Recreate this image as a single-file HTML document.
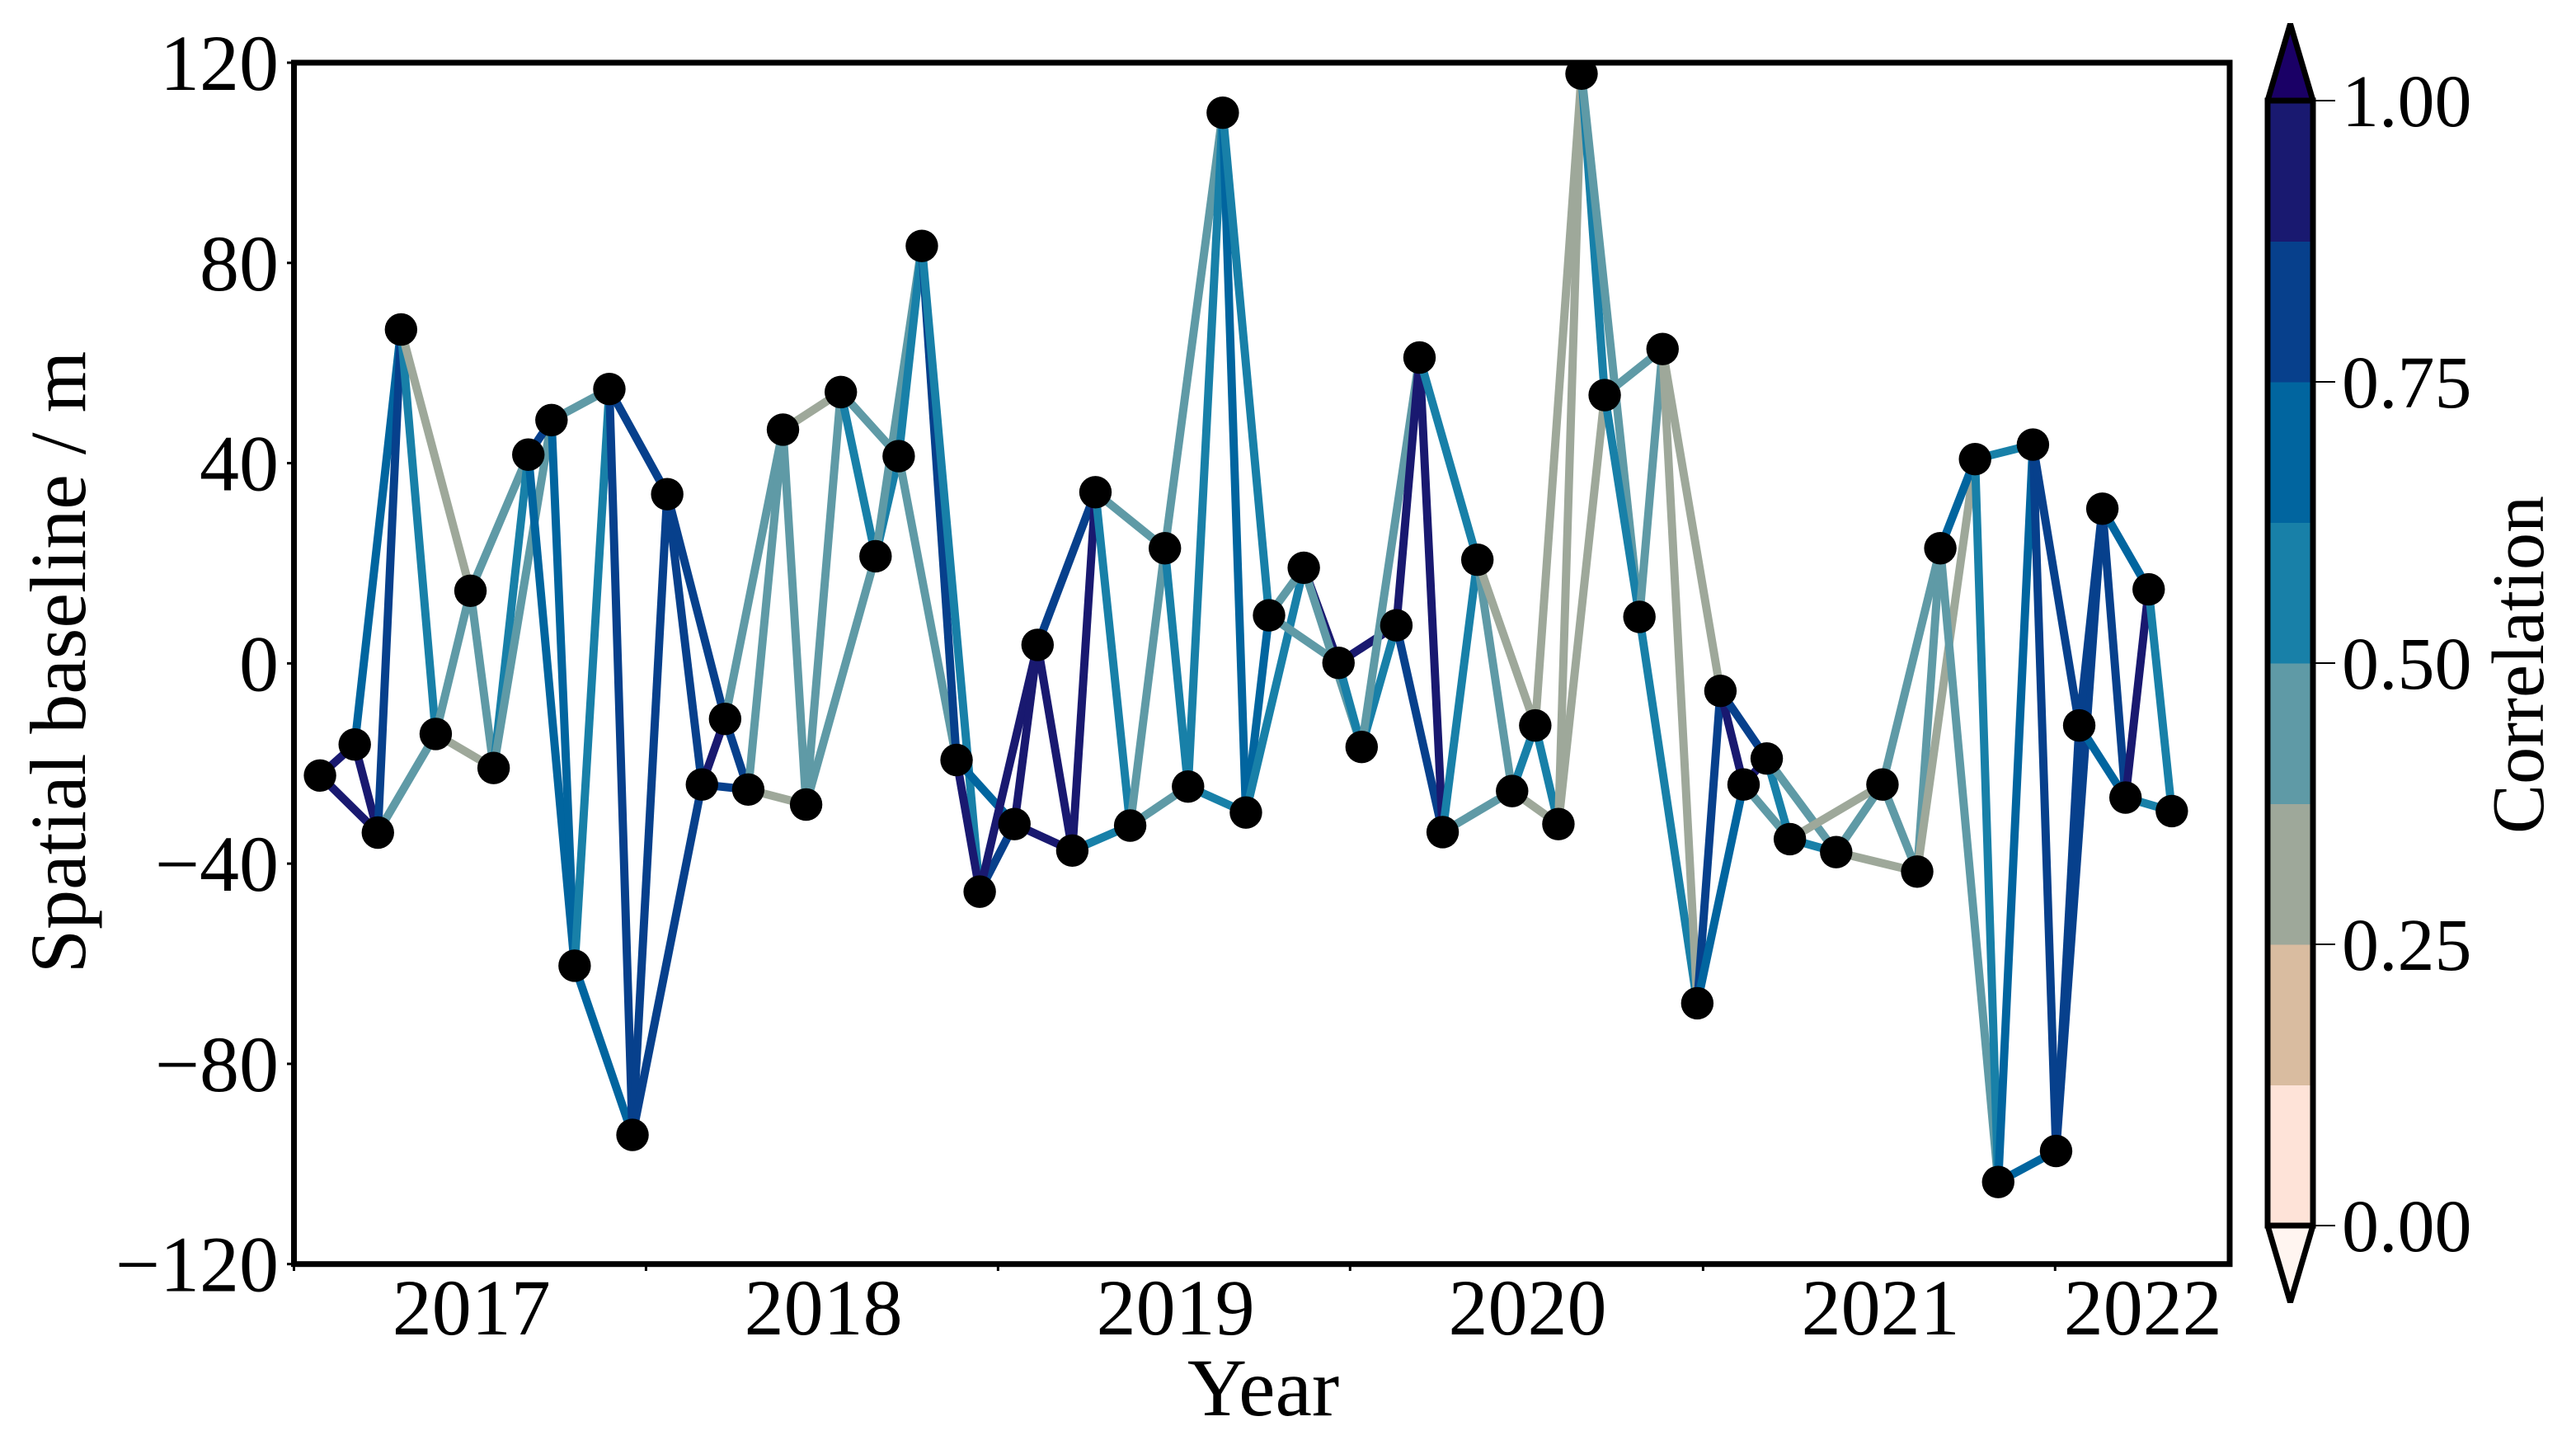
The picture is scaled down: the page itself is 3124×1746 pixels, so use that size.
<!DOCTYPE html>
<html lang="en">
<head>
<meta charset="utf-8">
<title>Spatial baseline network</title>
<style>
  html, body { margin: 0; padding: 0; background: #ffffff; width: 3124px; height: 1746px; overflow: hidden; }
  svg { display: block; }
  text { font-family: "Liberation Serif", "Times New Roman", serif; fill: #000; }
</style>
</head>
<body>
<svg id="chart" xmlns="http://www.w3.org/2000/svg" width="3124" height="1746" viewBox="0 0 3124 1746">
  <defs>
    <clipPath id="plot-clip"><rect x="356.5" y="76" width="2347.5" height="1456.7"></rect></clipPath>
  </defs>
  <rect x="0" y="0" width="3124" height="1746" fill="#ffffff"></rect>
  <g id="edges" clip-path="url(#plot-clip)"></g>
  <g id="points" clip-path="url(#plot-clip)"></g>
  <rect x="356.5" y="76" width="2347.5" height="1456.7" fill="none" stroke="#000" stroke-width="7"></rect>
  <g id="y-axis"></g>
  <g id="x-axis"></g>
  <text transform="translate(103,803) rotate(-90)" text-anchor="middle" font-size="96">Spatial baseline / m</text>
  <text x="1532" y="1716" text-anchor="middle" font-size="100">Year</text>
  <g id="colorbar"></g>
  <text transform="translate(3084,806) rotate(-90)" text-anchor="middle" font-size="90">Correlation</text>
</svg>
<script>
// Acquisition dates, days since 2016-07-01
const acquisitionDays = [27,63,87,111,147,183,207,243,267,291,327,351,387,423,447,471,507,531,567,603,627,651,687,711,747,771,807,831,867,903,927,963,987,1011,1047,1083,1107,1143,1167,1191,1227,1263,1287,1311,1335,1359,1395,1419,1455,1479,1503,1527,1551,1599,1647,1683,1707,1743,1767,1803,1827,1851,1875,1899,1923,1947];
// Perpendicular spatial baseline, metres
const baselines = [-22.4,-16.2,-33.8,66.7,-14.1,14.5,-20.9,41.7,48.6,-60.4,54.8,-94.2,33.8,-24.2,-11.1,-25.2,46.7,-28.2,54.2,21.4,41.4,83.4,-19.3,-45.6,-32.1,3.7,-37.4,34.2,-32.4,23,-24.6,110,-29.8,9.6,19.1,0.1,-16.7,7.6,61.1,-33.7,20.7,-25.5,-12.4,-32.1,117.8,53.6,9.3,62.8,-67.9,-5.5,-24.2,-19,-35.1,-37.7,-24.2,-41.6,23,40.8,-103.6,43.7,-97.4,-12.4,30.9,-26.8,14.8,-29.5];
// Correlation of the pair (i, i+1)
const corrToNext = [.93,.93,.8,.55,.45,.45,.55,.8,.7,.55,.8,.8,.8,.93,.8,.45,.45,.45,.55,.55,.55,.8,.93,.8,.93,.93,.93,.55,.45,.55,.55,.7,.7,.45,.93,.55,.55,.93,.93,.55,.45,.55,.55,.3,.55,.55,.45,.3,.8,.93,.93,.55,.55,.45,.45,.45,.7,.55,.7,.8,.8,.8,.8,.93,.55];
// Correlation of the pair (i, i+2)
const corrToSkip = [.93,.7,.45,.3,.3,.45,.45,.7,.45,.7,.8,.8,.8,.8,.45,.3,.3,.45,.45,.45,.45,.55,.7,.93,.93,.8,.55,.45,.45,.45,.55,.55,.55,.45,.45,.93,.45,.8,.55,.45,.3,.3,.3,.3,.45,.45,.55,.3,.7,.8,.45,.45,.3,.3,.45,.3,.45,.55,.7,.8,.8,.7,.7,.55];
// Axis ticks and labels
const yTicks = [120,80,40,0,-40,-80,-120];
const xTickDays = [0,365,730,1095,1461,1826];
const yearLabels = ["2017","2018","2019","2020","2021","2022"];
const yearLabelDays = [184,549,914,1279,1645,1917];
// Colour scale: one colour per 0.125 correlation step, low to high
const corrColors = ["#fee3d8","#d9bca0","#9ea89a","#5f9aa6","#1880a8","#01659f","#07408c","#191970"];
const cbarTicks = [0,0.25,0.5,0.75,1];
const cbarTickLabels = ["0.00","0.25","0.50","0.75","1.00"];
const cbarUnderColor = "#fff5f0";
const cbarOverColor = "#1a0066";

const NS = "http://www.w3.org/2000/svg";
const xDomain = [0, 2007];
const xRange = [356.5, 2704];
const yDomain = [-120, 120];
const yRange = [1532.7, 76];
const cDomain = [0, 1];
const cRange = [1486, 122];

function scale(v, d, r) { return r[0] + (v - d[0]) / (d[1] - d[0]) * (r[1] - r[0]); }
function xPos(day) { return scale(day, xDomain, xRange); }
function yPos(val) { return scale(val, yDomain, yRange); }
function cPos(c) { return scale(c, cDomain, cRange); }
function corrColor(c) {
  const i = Math.max(0, Math.min(corrColors.length - 1, Math.floor(c * corrColors.length)));
  return corrColors[i];
}
function make(tag, parent, attrs) {
  const el = document.createElementNS(NS, tag);
  for (const k in attrs) el.setAttribute(k, attrs[k]);
  parent.appendChild(el);
  return el;
}

const edgesG = document.getElementById("edges");
const pointsG = document.getElementById("points");
const yAxisG = document.getElementById("y-axis");
const xAxisG = document.getElementById("x-axis");
const cbarG = document.getElementById("colorbar");

function drawEdge(a, b, corr) {
  const line = make("line", edgesG, {
    x1: xPos(acquisitionDays[a]), y1: yPos(baselines[a]),
    x2: xPos(acquisitionDays[b]), y2: yPos(baselines[b]),
    stroke: corrColor(corr), "stroke-width": 10, "stroke-linecap": "butt"
  });
  
  
}
for (let i = 0; i < acquisitionDays.length; i++) {
  if (i < corrToNext.length) drawEdge(i, i + 1, corrToNext[i]);
  if (i < corrToSkip.length) drawEdge(i, i + 2, corrToSkip[i]);
}
acquisitionDays.forEach(function (day, i) {
  const dot = make("circle", pointsG, { cx: xPos(day), cy: yPos(baselines[i]), r: 19.7, fill: "#000" });
  
  
});

yTicks.forEach(function (t) {
  const y = yPos(t);
  const tick = make("line", yAxisG, { x1: 348, x2: 354, y1: y, y2: y, stroke: "#000", "stroke-width": 3 });
  
  
  const label = make("text", yAxisG, { x: 338, y: y + 33, "text-anchor": "end", "font-size": 96 });
  label.textContent = String(t).replace("-", "\u2212");
  
  
});
xTickDays.forEach(function (d) {
  const x = xPos(d);
  const tick = make("line", xAxisG, { x1: x, x2: x, y1: 1535, y2: 1541, stroke: "#000", "stroke-width": 3 });
  
  
});
yearLabels.forEach(function (lab, i) {
  const label = make("text", xAxisG, { x: xPos(yearLabelDays[i]), y: 1618, "text-anchor": "middle", "font-size": 96 });
  label.textContent = lab;
  
  
});

// Colorbar
const cbL = 2750, cbR = 2805, cbMid = (cbL + cbR) / 2, arrowH = 93;
const overArrow = make("polygon", cbarG, {
  points: cbL + "," + cPos(1) + " " + cbMid + "," + (cPos(1) - arrowH) + " " + cbR + "," + cPos(1),
  fill: cbarOverColor, stroke: "#000", "stroke-width": 7, "stroke-linejoin": "bevel"
});


const underArrow = make("polygon", cbarG, {
  points: cbL + "," + cPos(0) + " " + cbMid + "," + (cPos(0) + arrowH) + " " + cbR + "," + cPos(0),
  fill: cbarUnderColor, stroke: "#000", "stroke-width": 7, "stroke-linejoin": "bevel"
});


corrColors.forEach(function (col, i) {
  const hi = cPos((i + 1) / corrColors.length), lo = cPos(i / corrColors.length);
  const seg = make("rect", cbarG, { x: cbL, y: hi, width: cbR - cbL, height: lo - hi + 0.5, fill: col });
  
  
});
const cbFrame = make("rect", cbarG, { x: cbL, y: cPos(1), width: cbR - cbL, height: cPos(0) - cPos(1), fill: "none", stroke: "#000", "stroke-width": 7 });


cbarTicks.forEach(function (c, i) {
  const y = cPos(c);
  const tick = make("line", cbarG, { x1: 2808, x2: 2832, y1: y, y2: y, stroke: "#000", "stroke-width": 2 });
  
  
  const label = make("text", cbarG, { x: 2840, y: y + 31, "font-size": 90 });
  label.textContent = cbarTickLabels[i];
  
  
});
</script>
</body>
</html>
